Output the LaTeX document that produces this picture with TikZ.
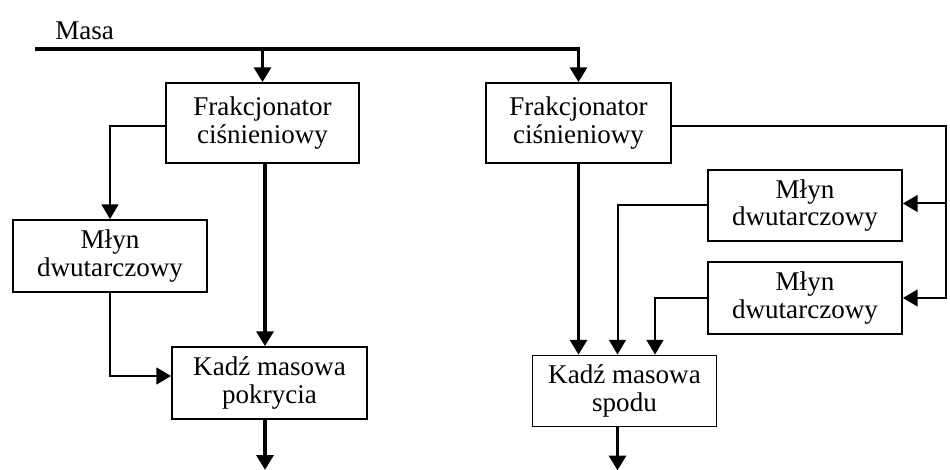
\documentclass[tikz,border=0pt]{standalone}
\usepackage{fontspec}
\setmainfont{Liberation Serif}
\usetikzlibrary{arrows.meta,calc}

\begin{document}
\begin{tikzpicture}[x=0.75pt,y=-0.75pt,
  every node/.style={font=\fontsize{20.3pt}{20.5pt}\selectfont},
  box/.style={draw,line width=1.3pt,inner sep=0pt,align=center},
  tip/.style={-{Triangle[length=11pt,width=12.5pt]}},
  main/.style={line width=2.7pt},
  side/.style={line width=1.5pt}]
  \useasboundingbox (0,0) rectangle (950,470);

  % process units
  \node[box,minimum width={193*0.75pt},minimum height={80*0.75pt}] (F1) at (262.5,123) {Frakcjonator\\ciśnieniowy};
  \node[box,minimum width={185*0.75pt},minimum height={80*0.75pt}] (F2) at (578.5,123) {Frakcjonator\\ciśnieniowy};
  \node[box,minimum width={194*0.75pt},minimum height={72*0.75pt}] (M1) at (110,256) {Młyn\\dwutarczowy};
  \node[box,minimum width={195*0.75pt},minimum height={72*0.75pt}] (K1) at (269.5,383) {Kadź masowa\\pokrycia};
  \node[box,minimum width={194*0.75pt},minimum height={71*0.75pt}] (M2) at (805,205.5) {Młyn\\dwutarczowy};
  \node[box,minimum width={194*0.75pt},minimum height={72*0.75pt}] (M3) at (805,298) {Młyn\\dwutarczowy};
  \node[box,minimum width={184*0.75pt},minimum height={71*0.75pt}] (K2) at (624.5,391) {Kadź masowa\\spodu};

  % feed line
  \node[anchor=base west,inner sep=0pt] (masa) at (55,40) {Masa};
  \coordinate (feed) at (35,49);
  \draw[main,tip] (feed) -| (F2.north);
  \draw[main,tip] (F1.north |- feed) -- (F1.north);

  % left branch
  \coordinate (f1w) at ($(F1.west)+(0,3)$);
  \draw[side,tip] (f1w) -| (M1.north);
  \draw[main,tip] ([xshift={2.5*0.75pt}]F1.south) -- ([xshift={2.5*0.75pt}]F1.south |- K1.north);
  \coordinate (k1in) at ($(K1.west)+(0,-7)$);
  \draw[side,tip] (M1.south) |- (k1in);
  \coordinate (out1) at ($(K1.south)+(-4.5,50)$);
  \draw[main,tip] (K1.south -| out1) -- (out1);

  % right branch
  \coordinate (f2e) at ($(F2.east)+(0,3)$);
  \coordinate (ret) at (946,126);
  \coordinate (m2in) at ($(M2.east)+(0,-2)$);
  \draw[side,tip] (f2e) -- (ret) |- (M3.east);
  \draw[side,tip] (ret |- m2in) -- (m2in);
  \draw[main,tip] (F2.south) -- (F2.south |- K2.north);
  \coordinate (k2a) at ($(K2.north)+(-7,0)$);
  \draw[side,tip] (M2.west) -| (k2a);
  \coordinate (k2b) at ($(K2.north)+(30.5,0)$);
  \draw[side,tip] (M3.west) -| (k2b);
  \coordinate (out2) at ($(K2.south)+(-7,43)$);
  \draw[main,tip] (K2.south -| out2) -- (out2);
\end{tikzpicture}
\end{document}
